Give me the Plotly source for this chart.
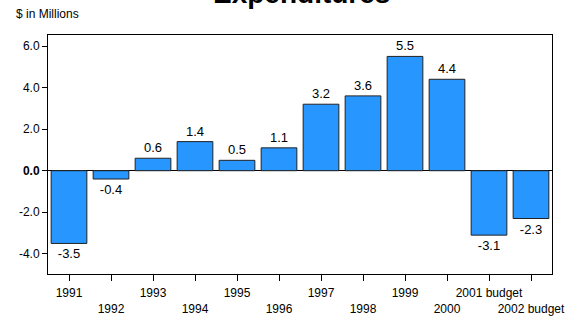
import plotly.graph_objects as go

# Annual expenditure change, $ millions
years = ["1991", "1992", "1993", "1994", "1995", "1996", "1997", "1998",
         "1999", "2000", "2001 budget", "2002 budget"]
values = [-3.5, -0.4, 0.6, 1.4, 0.5, 1.1, 3.2, 3.6, 5.5, 4.4, -3.1, -2.3]
y_ticks = [-4.0, -2.0, 0.0, 2.0, 4.0, 6.0]

positions = list(range(len(years)))
# stagger category labels on two rows
tick_text = [y if i % 2 == 0 else "<br>" + y for i, y in enumerate(years)]
y_tick_text = [f"<b>{t:.1f}</b>" if t == 0 else f"{t:.1f}" for t in y_ticks]

fig = go.Figure()
fig.add_trace(go.Bar(
    x=positions,
    y=values,
    width=0.85,
    marker=dict(color="#2896FF", line=dict(color="#222222", width=1)),
    text=[f"{v:.1f}" for v in values],
    textposition="outside",
    textfont=dict(family="Liberation Sans, Arial", size=13, color="black"),
    cliponaxis=False,
))

fig.update_layout(
    width=584, height=320,
    margin=dict(l=48, r=32, t=35, b=46),
    paper_bgcolor="white", plot_bgcolor="white",
    showlegend=False,
    font=dict(family="Liberation Sans, Arial", color="black"),
    xaxis=dict(
        range=[-0.5, len(years) - 0.5],
        tickvals=positions, ticktext=tick_text, tickangle=0,
        automargin=False,
        ticks="outside", ticklen=6, tickcolor="black",
        ticklabelstandoff=2,
        showline=True, linecolor="black", linewidth=1, mirror=True,
        showgrid=False, zeroline=False,
        tickfont=dict(size=12),
    ),
    yaxis=dict(
        range=[-4.97, 6.53], automargin=False,
        tickvals=y_ticks, ticktext=y_tick_text,
        ticks="outside", ticklen=5, tickcolor="black",
        showline=True, linecolor="black", linewidth=1, mirror=True,
        showgrid=False, zeroline=True, zerolinecolor="black", zerolinewidth=1,
        tickfont=dict(size=12),
    ),
    bargap=0.15,
)

# chart title, set high above the plot frame
fig.add_annotation(text="<b>Expenditures</b>", xref="paper", yref="paper",
                   x=0.502, y=1.0, xanchor="center", yanchor="middle",
                   yshift=42, showarrow=False,
                   font=dict(size=28, color="black"))

fig.add_annotation(text="$ in Millions", xref="paper", yref="paper",
                   x=-0.068, y=1.0, xanchor="left", yanchor="bottom",
                   yshift=12, showarrow=False, font=dict(size=12))

fig.write_html("out.html")
